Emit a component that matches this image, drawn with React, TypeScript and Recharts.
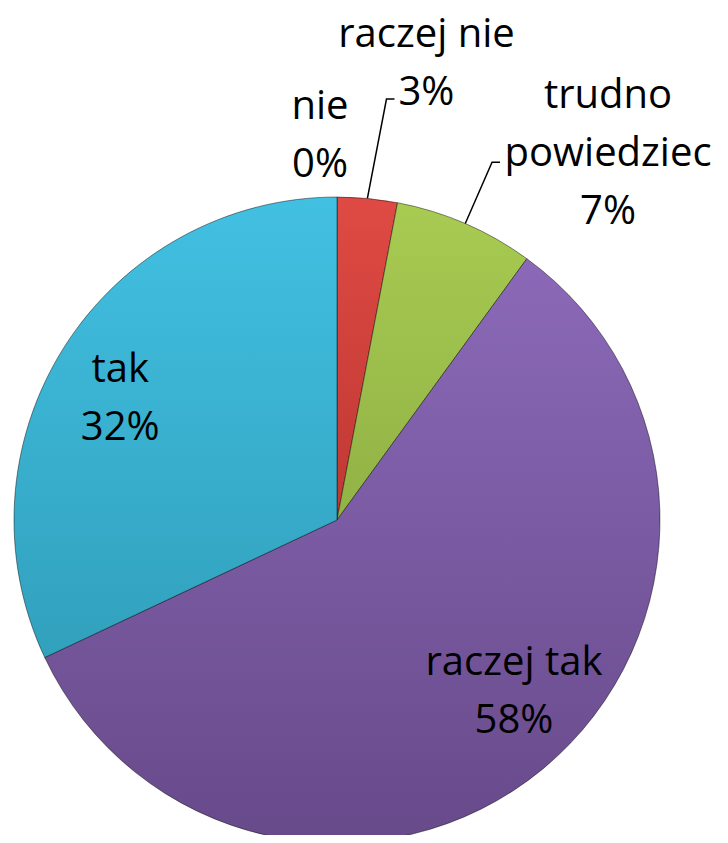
import { PieChart, Pie, Cell } from "recharts";

const categories = ["nie", "raczej nie", "trudno powiedziec", "raczej tak", "tak"];
const labelLines = [["nie"], ["raczej nie"], ["trudno", "powiedziec"], ["raczej tak"], ["tak"]];
const values = [0, 3, 7, 58, 32];
const percentLabels = ["0%", "3%", "7%", "58%", "32%"];

const colors = [
  ["#5a7fc4", "#45679f"],
  ["#df4a44", "#bf3833"],
  ["#a8cb52", "#91b245"],
  ["#8b69b8", "#674a8a"],
  ["#42c0e2", "#31a1bd"],
];

// label placement: distance along the slice's mid angle, then a nudge
const labelPlace = [
  { r: 388, dx: -17 },
  { r: 462, dx: 46 },
  { r: 403, dx: 111 },
  { r: 218, dx: 38 },
  { r: 233, dx: -20 },
];
const leaderSlices = [1, 2];

const RAD = Math.PI / 180;
const FONT = "'Open Sans', sans-serif";
const LINE = 58;

const data = categories.map((name, i) => ({ name, value: values[i] }));

function renderLabel(props: any) {
  const { cx, cy, midAngle, outerRadius, index } = props;
  const place = labelPlace[index];
  const x = cx + place.r * Math.cos(-midAngle * RAD) + place.dx;
  const y = cy + place.r * Math.sin(-midAngle * RAD);
  const lines = [...labelLines[index], percentLabels[index]];
  const top = y - ((lines.length - 1) * LINE) / 2;
  let leader = null;
  if (leaderSlices.includes(index)) {
    const ex = cx + outerRadius * Math.cos(-midAngle * RAD);
    const ey = cy + outerRadius * Math.sin(-midAngle * RAD);
    const lastY = top + (lines.length - 2) * LINE + (index === 1 ? LINE * 0.2 : LINE * 0.2);
    const textLeft = index === 1 ? x - 32 : x - 108;
    const kx = textLeft - 8;
    const ky = index === 1 ? top + LINE + 10 : top + LINE + 12;
    leader = (
      <polyline
        points={`${ex},${ey} ${kx},${ky} ${textLeft},${ky}`}
        fill="none"
        stroke="#000"
        strokeWidth={1.5}
      />
    );
    void lastY;
  }
  return (
    <g key={`lbl-${index}`}>
      {leader}
      <text
        x={x}
        y={top}
        textAnchor="middle"
        dominantBaseline="central"
        fontFamily={FONT}
        fontSize={40}
        fill="#000"
      >
        {lines.map((t, j) => (
          <tspan key={j} x={x} y={top + j * LINE}>
            {t}
          </tspan>
        ))}
      </text>
    </g>
  );
}

export default function App() {
  return (
    <div style={{ margin: -8, width: 728, height: 843, background: "#fff" }}>
      <PieChart width={728} height={843} margin={{ top: 0, right: 0, bottom: 0, left: 0 }}>
        <defs>
          {colors.map((c, i) => (
            <linearGradient key={i} id={`slice-${i}`} x1="0" y1="0" x2="0" y2="1">
              <stop offset="0%" stopColor={c[0]} />
              <stop offset="100%" stopColor={c[1]} />
            </linearGradient>
          ))}
        </defs>
        <Pie
          data={data}
          dataKey="value"
          nameKey="name"
          cx={337}
          cy={520}
          outerRadius={323}
          startAngle={90}
          endAngle={-270}
          stroke="rgba(0,0,0,0.45)"
          strokeWidth={1}
          label={renderLabel}
          labelLine={false}
          isAnimationActive={false}
        >
          {data.map((d, i) => (
            <Cell key={d.name} fill={`url(#slice-${i})`} />
          ))}
        </Pie>
      </PieChart>
    </div>
  );
}
